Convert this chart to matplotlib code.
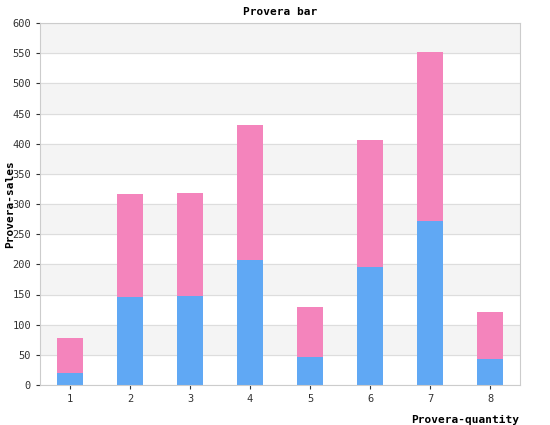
import matplotlib
matplotlib.use("Agg")
import matplotlib.pyplot as plt

categories = ["1", "2", "3", "4", "5", "6", "7", "8"]
blue_vals = [20, 146, 148, 207, 46, 196, 272, 43]
totals = [78, 317, 318, 431, 129, 406, 552, 121]
pink_vals = [t - b for t, b in zip(totals, blue_vals)]

plt.rcParams['font.family'] = ['DejaVu Sans Mono']
fig = plt.figure(figsize=(5.5, 4.25), dpi=100)
ax = fig.add_axes([40/550, 40/425, 480/550, 362/425])
for lo in range(50, 600, 100):
    ax.axhspan(lo, lo + 50, color="#f4f4f4", zorder=0)
ax.set_yticks(range(0, 601, 50))
ax.grid(axis="y", color="#dddddd", linewidth=0.8, zorder=1)
ax.set_axisbelow(True)
x = list(range(len(categories)))
ax.bar(x, blue_vals, width=0.42, color="#60a8f4", zorder=2)
ax.bar(x, pink_vals, bottom=blue_vals, width=0.42, color="#f484bc", zorder=2)
ax.set_xticks(x, categories)
ax.set_xlim(-0.5, 7.5)
ax.set_ylim(0, 600)
for s in ax.spines.values():
    s.set_color("#cccccc")
ax.tick_params(labelsize=7.5, colors="#333333", length=3)
ax.set_title("Provera bar", fontsize=8, fontweight="bold", pad=6)
fig.text(10/550, 1 - 204/425, "Provera-sales", fontsize=8, fontweight="bold",
         rotation=90, ha="center", va="center")
fig.text(519/550, 1 - 420/425, "Provera-quantity", fontsize=8, fontweight="bold", ha="right", va="center")
fig.savefig("out.png", dpi=100)
